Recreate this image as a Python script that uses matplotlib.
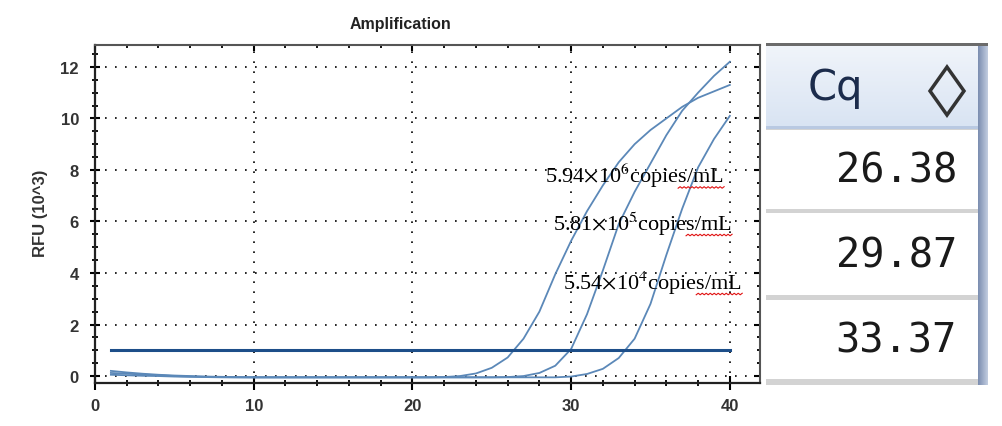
import numpy as np
import matplotlib
matplotlib.use("Agg")
import matplotlib.pyplot as plt
from matplotlib.patches import Rectangle, Polygon
from matplotlib.colors import LinearSegmentedColormap
from matplotlib.transforms import IdentityTransform

# --- data ---
cycles = list(range(1, 41))
rfu_6 = [0.20, 0.14, 0.09, 0.05, 0.02, 0.00, -0.02, -0.03, -0.04, -0.05,
         -0.05, -0.05, -0.05, -0.05, -0.05, -0.05, -0.05, -0.05, -0.05, -0.05,
         -0.05, -0.04, 0.00, 0.10, 0.32, 0.72, 1.45, 2.50, 3.95, 5.25,
         6.40, 7.40, 8.30, 9.00, 9.55, 10.00, 10.45, 10.80, 11.05, 11.30]
rfu_5 = [0.12, 0.09, 0.06, 0.03, 0.00, -0.02, -0.03, -0.04, -0.05, -0.05,
         -0.05, -0.05, -0.05, -0.05, -0.05, -0.05, -0.05, -0.05, -0.05, -0.05,
         -0.05, -0.05, -0.05, -0.05, -0.05, -0.04, 0.00, 0.12, 0.40, 1.05,
         2.40, 4.10, 5.90, 7.15, 8.25, 9.35, 10.30, 11.00, 11.65, 12.20]
rfu_4 = [0.05, 0.03, 0.01, 0.00, -0.02, -0.03, -0.04, -0.05, -0.05, -0.05,
         -0.05, -0.05, -0.05, -0.05, -0.05, -0.05, -0.05, -0.05, -0.05, -0.05,
         -0.05, -0.05, -0.05, -0.05, -0.05, -0.05, -0.05, -0.05, -0.05, -0.02,
         0.08, 0.28, 0.70, 1.45, 2.80, 4.70, 6.50, 8.10, 9.20, 10.10]
threshold = 1.0
labels = [r"5.94$\times$10$^{6}$copies/mL",
          r"5.81$\times$10$^{5}$copies/mL",
          r"5.54$\times$10$^{4}$copies/mL"]
cq_values = ["26.38", "29.87", "33.37"]

plt.rcParams["mathtext.fontset"] = "stix"

fig = plt.figure(figsize=(10.02, 4.27), dpi=100)
W, H = 1002, 427

# main amplification plot (pixel box 95..760 x 46..384)
ax = fig.add_axes([95 / W, (H - 384) / H, 665 / W, 338 / H])
line_c = "#5b88b8"
for ys in (rfu_6, rfu_5, rfu_4):
    ax.plot(cycles, ys, color=line_c, lw=1.3, solid_joinstyle="round")
ax.plot([cycles[0], cycles[-1]], [threshold, threshold], color="#1d4e89", lw=2.2)

ax.set_xlim(0, 41.9)
ax.set_ylim(-0.27, 12.85)
ax.set_xticks([0, 10, 20, 30, 40])
ax.set_xticks(np.arange(0, 42, 2), minor=True)
ax.set_yticks([0, 2, 4, 6, 8, 10, 12])
ax.set_yticks(np.arange(0, 12.6, 0.5), minor=True)
ax.grid(True, which="major", color="black", linestyle=(0, (1, 5)), lw=1.2)

tick_font = {"family": "Liberation Sans", "weight": "bold", "size": 12}
ax.set_xticklabels(["0", "10", "20", "30", "40"], fontdict=tick_font, color="#333333")
ax.set_yticklabels(["0", "2", "4", "6", "8", "10", "12"], fontdict=tick_font, color="#333333")
ax.tick_params(axis="y", which="major", direction="inout", length=7.2, width=1.5, pad=8)
ax.tick_params(axis="y", which="minor", direction="inout", length=4.3, width=1.3)
ax.tick_params(axis="x", which="major", direction="inout", length=10, width=1.5, pad=6)
ax.tick_params(axis="x", which="minor", direction="inout", length=4.3, width=1.3)
ax.tick_params(top=False, right=False)
for s in ("left", "bottom"):
    ax.spines[s].set_linewidth(1.6)
    ax.spines[s].set_color("#222222")
for s in ("top", "right"):
    ax.spines[s].set_linewidth(1.5)
    ax.spines[s].set_color("#555555")

# inward ticks on the top and right edges
top = ax.secondary_xaxis("top")
top.set_xticks([0, 10, 20, 30, 40])
top.set_xticks(np.arange(0, 42, 2), minor=True)
top.set_xticklabels([])
top.tick_params(which="major", direction="in", length=4, width=1.5)
top.tick_params(which="minor", direction="in", length=2.5, width=1.3)
top.spines["top"].set_visible(False)
right = ax.secondary_yaxis("right")
right.set_yticks([0, 2, 4, 6, 8, 10, 12])
right.set_yticks(np.arange(0, 12.6, 0.5), minor=True)
right.set_yticklabels([])
right.tick_params(which="major", direction="in", length=4, width=1.5)
right.tick_params(which="minor", direction="in", length=2.5, width=1.3)
right.spines["right"].set_visible(False)

fig.text(400 / W, 1 - 25 / H, "Amplification", ha="center", va="center",
         family="Liberation Sans", weight="bold", size=11.5, color="#222222")
fig.text(41 / W, 1 - 213 / H, "RFU (10^3)", ha="center", va="center", rotation=90,
         family="Liberation Sans", weight="bold", size=12, color="#333333")

# concentration labels
label_pos = [(28.36, 7.8), (28.86, 5.94), (29.5, 3.65)]
texts = []
for (lx, ly), lab in zip(label_pos, labels):
    t = ax.text(lx, ly, lab, ha="left", va="center", family="Liberation Serif",
                size=16, color="black")
    texts.append(t)

# red spell-check squiggle under "mL"
fig.canvas.draw()
renderer = fig.canvas.get_renderer()
for t in texts:
    bb = t.get_window_extent(renderer)
    xs = np.arange(bb.x1 - 46, bb.x1 + 1, 2.0)
    ys = bb.y0 + 1 + np.where(np.arange(len(xs)) % 2 == 0, 0, 1.5)
    fig.add_artist(plt.Line2D(xs, ys, transform=IdentityTransform(), color="#e01010", lw=0.8))

# Cq table panel (pixel coordinates, y downward)
tab = fig.add_axes([766 / W, (H - 386) / H, 222 / W, 342 / H])
tab.axis("off")
tab.add_patch(Rectangle((766, 44), 222, 342, color="#d3d3d3", lw=0))
tab.add_patch(Rectangle((766, 44), 222, 3, color="#6b6b6b", lw=0))
grad = np.linspace(0, 1, 64)[:, None]
tab.imshow(grad, extent=(766, 978, 128, 47),
           cmap=LinearSegmentedColormap.from_list("hdr", ["#f0f4fa", "#d9e4f3"]),
           aspect="auto", zorder=1)
tab.add_patch(Rectangle((766, 127), 212, 3, color="#b9c9e2", lw=0, zorder=2))
edge = np.linspace(0, 1, 32)[None, :]
tab.imshow(edge, extent=(978, 988, 386, 47),
           cmap=LinearSegmentedColormap.from_list("edge", ["#7b8db0", "#c2cde0"]),
           aspect="auto", zorder=1)
tab.set_xlim(766, 988)
tab.set_ylim(386, 44)

row_spans = [(131, 210), (214, 296), (301, 380)]
for (y0, y1), val in zip(row_spans, cq_values):
    tab.add_patch(Rectangle((766, y0), 212, y1 - y0, color="white", lw=0, zorder=2))
    tab.text(957, (y0 + y1) / 2 + 1, val, ha="right", va="center",
             family="DejaVu Sans Mono", size=29, color="#1a1a1a", zorder=3)

tab.text(808, 100, "Cq", ha="left", va="baseline", family="DejaVu Sans",
         size=30, color="#1c2c4c", zorder=3)
tab.add_patch(Polygon([(947, 68), (964, 92), (947, 116), (930, 92)], closed=True,
                      fill=False, edgecolor="#333333", lw=2.5, zorder=3))

fig.savefig("out.png", dpi=100)
